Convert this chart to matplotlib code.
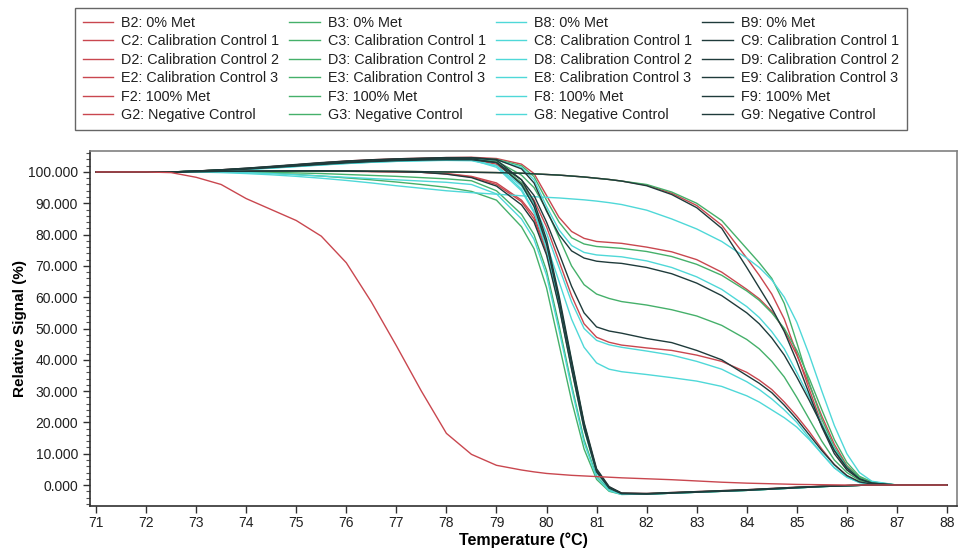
import matplotlib
matplotlib.use('Agg')
import matplotlib.pyplot as plt
from matplotlib.ticker import MultipleLocator, FormatStrFormatter

plt.rcParams['font.family'] = ['Liberation Sans', 'DejaVu Sans']

# melt curve sampling temperatures (deg C)
temp = [71, 72, 72.5, 73, 73.5, 74, 74.5, 75, 75.5, 76, 76.5, 77, 77.5, 78, 78.5,
        79, 79.5, 79.75, 80, 80.25, 80.5, 80.75, 81, 81.25, 81.5,
        82, 82.5, 83, 83.5, 84, 84.25, 84.5, 84.75, 85, 85.25, 85.5, 85.75, 86, 86.25, 86.5, 87, 88]

# ---- column 2 (red)
b2 = [100, 100, 100, 100.1, 100.2, 100.2, 100.3, 100.3, 100.3, 100.3, 100.2, 100.1, 99.9, 99.4, 98.4,
      96.0, 90.5, 85.0, 74.5, 57.5, 37.5, 18.5, 4.0, -1.0, -2.7,
      -2.8, -2.5, -2.2, -1.9, -1.6, -1.4, -1.2, -1.0, -0.8, -0.6, -0.45, -0.3, -0.2, -0.1, 0, 0, 0]
c2 = [100, 100, 100, 100.3, 100.7, 101.1, 101.7, 102.3, 102.9, 103.5, 103.9, 104.2, 104.4, 104.6, 104.7,
      104.3, 102.5, 99.5, 92.5, 85.5, 81.0, 78.8, 77.8, 77.5, 77.2,
      76.0, 74.5, 72.0, 68.0, 62.5, 59.5, 55.5, 49.5, 41.5, 32.0, 22.0, 13.0, 6.2, 2.4, 0.8, 0, 0]
d2 = [100, 100, 100, 100.2, 100.5, 100.9, 101.4, 101.9, 102.4, 102.9, 103.3, 103.6, 103.8, 104.0, 104.0,
      102.5, 96.5, 91.0, 82.5, 71.5, 60.5, 51.5, 47.2, 45.6, 44.7,
      43.8, 43.0, 41.5, 39.5, 36.0, 33.5, 30.5, 26.5, 22.0, 17.0, 11.5, 6.5, 3.0, 1.0, 0.3, 0, 0]
e2 = [100, 100, 100, 100.1, 100.1, 100.2, 100.2, 100.2, 100.2, 100.2, 100.1, 100.0, 99.9, 99.5, 98.6,
      96.5, 91.0, 86.0, 75.0, 58.5, 38.5, 19.5, 4.8, -0.6, -2.6,
      -2.7, -2.4, -2.1, -1.8, -1.5, -1.3, -1.1, -0.9, -0.7, -0.55, -0.4, -0.3, -0.2, -0.1, 0, 0, 0]
f2 = [100, 100, 100, 100.1, 100.2, 100.2, 100.3, 100.3, 100.3, 100.3, 100.2, 100.2, 100.1, 100.0, 99.9,
      99.8, 99.6, 99.4, 99.2, 99.0, 98.7, 98.4, 98.0, 97.6, 97.1,
      95.8, 93.2, 89.3, 83.0, 72.5, 67.0, 61.0, 53.0, 42.0, 30.5, 19.5, 11.0, 5.0, 2.0, 0.6, 0, 0]
g2 = [100, 100, 99.8, 98.3, 96.0, 91.5, 88.0, 84.5, 79.5, 71.0, 58.5, 44.5, 30.0, 16.5, 9.8,
      6.3, 4.8, 4.2, 3.7, 3.4, 3.1, 2.9, 2.7, 2.5, 2.3,
      2.0, 1.7, 1.3, 0.9, 0.6, 0.5, 0.4, 0.3, 0.2, 0.15, 0.1, 0.05, 0, 0, 0, 0, 0]

# ---- column 3 (green)
b3 = [100, 100, 100, 100.3, 100.6, 101.0, 101.5, 102.0, 102.5, 103.0, 103.4, 103.7, 103.9, 104.0, 104.0,
      103.2, 96.5, 89.5, 77.5, 59.5, 39.5, 19.5, 4.5, -0.9, -2.8,
      -2.9, -2.6, -2.3, -2.0, -1.7, -1.5, -1.3, -1.1, -0.9, -0.7, -0.5, -0.35, -0.2, -0.1, 0, 0, 0]
c3 = [100, 100, 100, 100.3, 100.6, 101.0, 101.5, 102.1, 102.7, 103.2, 103.6, 103.9, 104.1, 104.3, 104.4,
      104.0, 102.0, 98.5, 91.0, 84.0, 79.0, 77.0, 76.2, 75.9, 75.6,
      74.6, 73.0, 70.5, 67.0, 62.0, 59.0, 55.0, 50.0, 43.0, 34.0, 24.0, 14.5, 7.2, 2.8, 1.0, 0, 0]
d3 = [100, 100, 100, 100.2, 100.5, 100.9, 101.4, 101.9, 102.5, 103.0, 103.4, 103.7, 103.9, 104.1, 104.2,
      103.5, 99.0, 95.0, 88.0, 79.0, 70.0, 64.0, 61.0, 59.6, 58.6,
      57.5, 56.0, 54.0, 51.0, 46.5, 43.5, 39.5, 34.5, 28.0, 21.0, 14.0, 8.0, 4.0, 1.5, 0.5, 0, 0]
e3 = [100, 100, 100, 100.1, 100.1, 99.9, 99.6, 99.2, 98.7, 98.1, 97.5, 96.8, 96.0, 95.1, 93.8,
      91.0, 82.5, 75.5, 63.0, 45.0, 27.0, 11.5, 1.8, -2.0, -3.0,
      -2.9, -2.6, -2.3, -2.0, -1.7, -1.5, -1.3, -1.1, -0.9, -0.7, -0.5, -0.35, -0.2, -0.1, 0, 0, 0]
f3 = [100, 100, 100, 100.1, 100.2, 100.2, 100.3, 100.3, 100.3, 100.3, 100.2, 100.2, 100.1, 100.0, 99.9,
      99.8, 99.6, 99.4, 99.2, 99.0, 98.7, 98.4, 98.0, 97.6, 97.1,
      96.0, 93.6, 90.0, 84.5, 75.5, 71.0, 66.0, 58.0, 45.5, 32.5, 21.0, 12.0, 6.0, 2.4, 0.8, 0, 0]
g3 = [100, 100, 100, 100.1, 100.1, 100.0, 99.9, 99.7, 99.5, 99.2, 98.9, 98.6, 98.2, 97.8, 97.2,
      94.0, 86.5, 80.0, 68.5, 51.0, 32.0, 14.5, 2.8, -1.5, -2.9,
      -2.8, -2.5, -2.2, -1.9, -1.6, -1.4, -1.2, -1.0, -0.8, -0.6, -0.45, -0.3, -0.2, -0.1, 0, 0, 0]

# ---- column 8 (cyan)
b8 = [100, 100, 100, 100.2, 100.5, 100.9, 101.3, 101.8, 102.3, 102.7, 103.1, 103.4, 103.6, 103.7, 103.6,
      102.0, 94.5, 87.5, 75.5, 57.5, 37.5, 18.0, 3.8, -1.2, -2.9,
      -2.9, -2.6, -2.3, -2.0, -1.7, -1.5, -1.3, -1.1, -0.9, -0.7, -0.5, -0.35, -0.2, -0.1, 0, 0, 0]
c8 = [100, 100, 100, 100.2, 100.6, 101.0, 101.5, 102.0, 102.6, 103.1, 103.5, 103.8, 104.0, 104.2, 104.3,
      103.8, 101.5, 97.5, 89.0, 81.5, 76.5, 74.3, 73.5, 73.2, 72.9,
      71.6, 69.5, 66.5, 62.5, 57.0, 53.5, 49.0, 43.5, 36.0, 28.0, 19.5, 11.5, 5.5, 2.0, 0.6, 0, 0]
d8 = [100, 100, 100, 100.2, 100.4, 100.8, 101.2, 101.7, 102.2, 102.7, 103.1, 103.4, 103.6, 103.8, 103.8,
      102.0, 95.5, 89.5, 80.5, 69.5, 58.5, 50.0, 46.2, 44.8, 44.0,
      42.8, 41.5, 39.5, 37.0, 33.0, 30.5, 27.5, 24.0, 20.0, 15.0, 10.0, 5.5, 2.5, 0.8, 0.2, 0, 0]
e8 = [100, 100, 100, 100.2, 100.5, 100.8, 101.3, 101.8, 102.3, 102.8, 103.2, 103.5, 103.7, 103.9, 103.9,
      101.5, 94.0, 87.0, 77.0, 65.0, 53.0, 44.0, 39.0, 37.0, 36.2,
      35.3, 34.3, 33.2, 31.5, 28.5, 26.5, 24.0, 21.5, 18.5, 14.5, 10.0, 5.5, 2.5, 0.8, 0.2, 0, 0]
f8 = [100, 100, 100, 100.0, 99.8, 99.5, 99.1, 98.6, 98.0, 97.3, 96.5, 95.6, 94.8, 94.0, 93.4,
      92.9, 92.4, 92.1, 91.9, 91.7, 91.4, 91.1, 90.7, 90.2, 89.6,
      87.8, 85.0, 81.8, 77.8, 72.5, 69.5, 65.5, 60.0, 52.0, 41.5, 30.0, 19.0, 10.0, 4.0, 1.2, 0, 0]
g8 = [100, 100, 100, 100.1, 100.0, 99.8, 99.5, 99.1, 98.7, 98.3, 97.9, 97.5, 97.1, 96.7, 96.0,
      93.0, 85.0, 78.5, 67.0, 49.5, 31.0, 13.5, 2.5, -1.8, -3.0,
      -2.9, -2.6, -2.3, -2.0, -1.7, -1.5, -1.3, -1.1, -0.9, -0.7, -0.5, -0.35, -0.2, -0.1, 0, 0, 0]

# ---- column 9 (dark)
b9 = [100, 100, 100, 100.1, 100.2, 100.3, 100.3, 100.4, 100.4, 100.3, 100.2, 100.1, 99.9, 99.3, 98.2,
      95.5, 89.5, 84.0, 73.5, 57.0, 37.0, 18.0, 4.2, -0.8, -2.6,
      -2.7, -2.4, -2.1, -1.8, -1.5, -1.3, -1.1, -0.9, -0.7, -0.55, -0.4, -0.3, -0.2, -0.1, 0, 0, 0]
c9 = [100, 100, 100, 100.3, 100.7, 101.2, 101.8, 102.4, 103.0, 103.5, 103.9, 104.2, 104.4, 104.6, 104.6,
      104.0, 101.0, 96.5, 87.5, 80.0, 74.8, 72.5, 71.5, 71.1, 70.8,
      69.5, 67.5, 64.5, 60.5, 55.0, 51.5, 47.0, 41.5, 34.5, 27.0, 19.0, 11.0, 5.5, 2.0, 0.6, 0, 0]
d9 = [100, 100, 100, 100.3, 100.6, 101.0, 101.5, 102.0, 102.6, 103.1, 103.5, 103.8, 104.0, 104.2, 104.2,
      103.0, 97.5, 92.5, 84.0, 74.0, 63.5, 55.0, 50.5, 49.2, 48.5,
      46.8, 45.5, 43.0, 40.0, 35.0, 32.5, 29.5, 25.5, 21.0, 16.0, 11.0, 6.5, 3.0, 1.0, 0.3, 0, 0]
e9 = [100, 100, 100, 100.3, 100.7, 101.2, 101.7, 102.3, 102.9, 103.4, 103.8, 104.1, 104.3, 104.5, 104.5,
      103.8, 97.5, 90.5, 78.5, 60.5, 40.0, 20.0, 5.2, -0.5, -2.6,
      -2.8, -2.5, -2.2, -1.9, -1.6, -1.4, -1.2, -1.0, -0.8, -0.6, -0.45, -0.3, -0.2, -0.1, 0, 0, 0]
f9 = [100, 100, 100, 100.1, 100.2, 100.2, 100.3, 100.3, 100.3, 100.3, 100.2, 100.2, 100.1, 100.0, 99.9,
      99.8, 99.6, 99.4, 99.2, 99.0, 98.7, 98.4, 98.0, 97.6, 97.1,
      95.6, 92.8, 88.6, 82.0, 69.5, 63.0, 56.5, 49.0, 39.5, 29.0, 18.5, 10.0, 4.8, 1.9, 0.6, 0, 0]
g9 = [100, 100, 100, 100.2, 100.5, 100.9, 101.4, 101.9, 102.4, 102.9, 103.3, 103.6, 103.8, 103.9, 103.9,
      103.0, 96.0, 89.0, 77.0, 59.0, 39.0, 19.0, 4.5, -1.0, -2.8,
      -2.9, -2.6, -2.3, -2.0, -1.7, -1.5, -1.3, -1.1, -0.9, -0.7, -0.5, -0.35, -0.2, -0.1, 0, 0, 0]

rows = ['B', 'C', 'D', 'E', 'F', 'G']
cols = ['2', '3', '8', '9']
sample_names = ['0% Met', 'Calibration Control 1', 'Calibration Control 2',
                'Calibration Control 3', '100% Met', 'Negative Control']
col_colors = ['#c9474f', '#45b06a', '#4fd8d8', '#1f3b3b']

signals = {'B2': b2, 'C2': c2, 'D2': d2, 'E2': e2, 'F2': f2, 'G2': g2,
           'B3': b3, 'C3': c3, 'D3': d3, 'E3': e3, 'F3': f3, 'G3': g3,
           'B8': b8, 'C8': c8, 'D8': d8, 'E8': e8, 'F8': f8, 'G8': g8,
           'B9': b9, 'C9': c9, 'D9': d9, 'E9': e9, 'F9': f9, 'G9': g9}


fig = plt.figure(figsize=(9.6, 5.5), dpi=100)
ax = fig.add_axes([90/960, 44/550, 867/960, 355/550])

for col, color in zip(cols, col_colors):
    for row, name in zip(rows, sample_names):
        well = row + col
        z = 4 if well == 'G2' else 3
        ax.plot(temp, signals[well], color=color, lw=1.0,
                label='%s: %s' % (well, name), zorder=z)

ax.set_xlim(70.88, 88.2)
ax.set_ylim(-6.7, 106.7)
ax.set_xticks(range(71, 89))
ax.yaxis.set_major_locator(MultipleLocator(10))
ax.yaxis.set_minor_locator(MultipleLocator(2))
ax.yaxis.set_major_formatter(FormatStrFormatter('%.3f'))
ax.set_yticks([0, 10, 20, 30, 40, 50, 60, 70, 80, 90, 100])

ax.tick_params(axis='both', which='major', direction='out', length=5, width=1,
               labelsize=10, colors='#303030', labelcolor='#202020')
ax.tick_params(axis='x', which='major', pad=2)
ax.tick_params(axis='y', which='minor', direction='out', length=3, width=0.8, colors='#505050')

for side in ['left', 'bottom']:
    ax.spines[side].set_color('#303030')
    ax.spines[side].set_linewidth(1.2)
for side in ['top', 'right']:
    ax.spines[side].set_color('#808080')
    ax.spines[side].set_linewidth(1.2)

ax.set_xlabel('Temperature (\u00b0C)', fontsize=11.5, fontweight='bold', labelpad=2)
ax.set_ylabel('Relative Signal (%)', fontsize=11, fontweight='bold', labelpad=1)

leg = fig.legend(loc='upper left', bbox_to_anchor=(75/960, 1 - 8/550), ncol=4,
                 frameon=True, fancybox=False, edgecolor='#404040', fontsize=10.4,
                 handlelength=2.1, handletextpad=0.55, columnspacing=0.7,
                 labelspacing=0.31, borderpad=0.55, borderaxespad=0)
leg.get_frame().set_linewidth(1.0)
for t in leg.get_texts():
    t.set_color('#202020')

fig.savefig('out.png', dpi=100, facecolor='white')
